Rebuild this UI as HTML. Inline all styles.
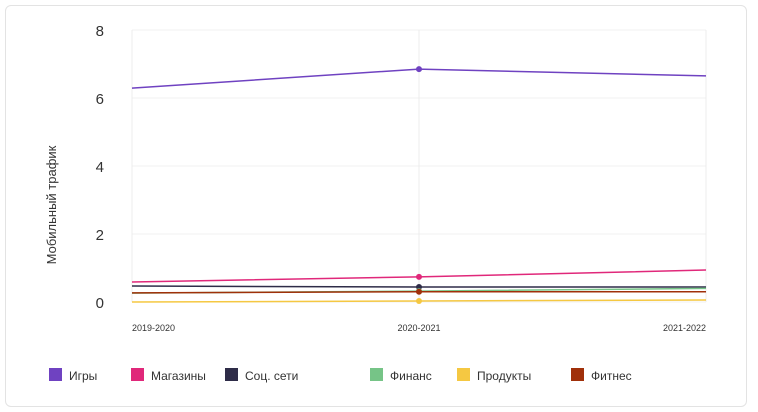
<!DOCTYPE html>
<html><head><meta charset="utf-8"><style>
body{margin:0;background:#fff;font-family:"Liberation Sans",sans-serif;}
.card{position:absolute;left:5px;top:5px;width:742px;height:402px;border:1px solid #e3e3e3;border-radius:6px;box-sizing:border-box;}
</style></head><body>
<div class="card"></div>
<svg id="chart" width="758" height="412" style="position:absolute;left:0;top:0"></svg>
<script>
const categories=["2019-2020","2020-2021","2021-2022"];
const yTicks=[0,2,4,6,8];
const seriesNames=["Игры","Магазины","Соц. сети","Финанс","Продукты","Фитнес"];
const colors=["#6f42c1","#e0287a","#2e2c48","#76c487","#f5c842","#a0300a"];
const sGames=[6.29,6.85,6.65];
const sShops=[0.59,0.74,0.94];
const sSocial=[0.47,0.44,0.44];
const sFinance=[0.26,0.32,0.40];
const sFood=[0.0,0.03,0.06];
const sFitness=[0.27,0.30,0.30];
const series=[sGames,sShops,sSocial,sFinance,sFood,sFitness];
const NS="http://www.w3.org/2000/svg";
const svg=document.getElementById('chart');
const x0=132,x1=706,y0=302,y8=30;
const xs=i=>x0+(x1-x0)*i/(categories.length-1);
const ys=v=>y0-(y0-y8)*v/8;
function mk(t,a){const e=document.createElementNS(NS,t);for(const k in a)e.setAttribute(k,a[k]);svg.appendChild(e);return e;}
yTicks.forEach(t=>{
 const g=mk('line',{x1:x0,x2:x1,y1:ys(t),y2:ys(t),stroke:'#f0f0f0'});
 
 
 const l=mk('text',{x:104,y:ys(t)+6,'font-size':15,'text-anchor':'end',fill:'#333'});
 l.textContent=t;
 
 
});
categories.forEach((c,i)=>{
 const g=mk('line',{x1:xs(i),x2:xs(i),y1:y8,y2:y0,stroke:'#ececec'});
 
 
 const anchor=i==0?'start':(i==categories.length-1?'end':'middle');
 const l=mk('text',{x:xs(i),y:331,'font-size':9,'text-anchor':anchor,fill:'#333'});
 l.textContent=c;
 
 
});
const yt=mk('text',{x:56,y:205,'font-size':13,'text-anchor':'middle',fill:'#333',transform:'rotate(-90 56 205)'});
yt.textContent='Мобильный трафик';


series.forEach((s,k)=>{
 const p=mk('polyline',{points:s.map((v,i)=>xs(i)+','+ys(v)).join(' '),fill:'none',stroke:colors[k],'stroke-width':1.5});
 
 
 const c=mk('circle',{cx:xs(1),cy:ys(s[1]),r:3,fill:colors[k]});
 
 
});
const lx=[49,131,225,370,457,571];
seriesNames.forEach((n,k)=>{
 const r=mk('rect',{x:lx[k],y:368,width:13,height:13,fill:colors[k]});
 
 
 const t=mk('text',{x:lx[k]+20,y:380,'font-size':12,fill:'#333'});
 t.textContent=n;
 
 
});
</script>
</body></html>
